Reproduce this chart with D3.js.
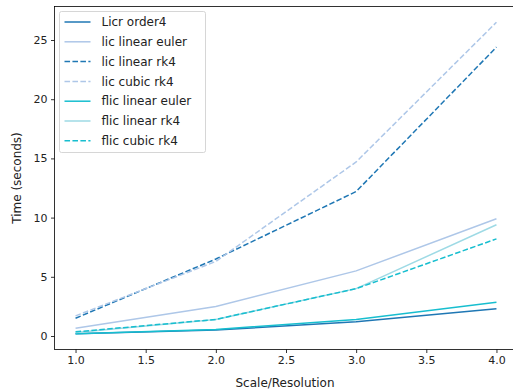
<!DOCTYPE html>
<head>
<style>
	body{ margin:0; background:white; }
	svg{ display:block; }
	text{ font-family:"DejaVu Sans", sans-serif; }
</style>
</head>
<body>
<script src="https://cdn.jsdelivr.net/npm/d3@7/dist/d3.min.js"></script>
<svg width="513" height="392"></svg>
<script>
	// values
	var scales = [1, 2, 3, 4];
	var seriesNames = ["Licr order4","lic linear euler","lic linear rk4","lic cubic rk4","flic linear euler","flic linear rk4","flic cubic rk4"];
	var licrOrder4     = [0.18, 0.5, 1.2, 2.3];
	var licLinearEuler = [0.65, 2.5, 5.5, 9.9];
	var licLinearRk4   = [1.5, 6.5, 12.2, 24.4];
	var licCubicRk4    = [1.7, 6.3, 14.7, 26.5];
	var flicLinearEuler= [0.2, 0.55, 1.4, 2.85];
	var flicLinearRk4  = [0.3, 1.4, 4.0, 9.4];
	var flicCubicRk4   = [0.35, 1.4, 4.0, 8.2];
	var xTicks = [1.0, 1.5, 2.0, 2.5, 3.0, 3.5, 4.0];
	var yTicks = [0, 5, 10, 15, 20, 25];

	var allSeries = [licrOrder4, licLinearEuler, licLinearRk4, licCubicRk4, flicLinearEuler, flicLinearRk4, flicCubicRk4];
	var colors = ["#1f77b4","#aec7e8","#1f77b4","#aec7e8","#17becf","#9edae5","#17becf"];
	var dashed = [false,false,true,true,false,false,true];

	var pLeft = 54.5, pRight = 517.5, pTop = 6.5, pBottom = 349.5;
	var svg = d3.select("svg");

	var x = d3.scaleLinear().domain([0.85, 4.15]).range([pLeft, pRight]);
	var y = d3.scaleLinear().domain([-1.14, 27.83]).range([pBottom, pTop]);

	var line = d3.line()
		.x(function(d,i){ return x(scales[i]); })
		.y(function(d){ return y(d); });

	allSeries.forEach(function(s, k){
		svg.append("path")
			.attr("d", line(s))
			.attr("fill","none")
			.attr("stroke", colors[k])
			.attr("stroke-width",1.5)
			.attr("stroke-dasharray", dashed[k] ? "5.55,2.4" : null);
	});

	// spines
	svg.append("rect")
		.attr("x",pLeft).attr("y",pTop)
		.attr("width",pRight-pLeft).attr("height",pBottom-pTop)
		.attr("fill","none").attr("stroke","black").attr("stroke-width",0.8);

	var xAxis = svg.append("g")
		.attr("transform","translate(0,"+pBottom+")")
		.call(d3.axisBottom(x).tickValues(xTicks).tickFormat(d3.format(".1f")).tickSize(3.5).tickPadding(3.5));
	var yAxis = svg.append("g")
		.attr("transform","translate("+pLeft+",0)")
		.call(d3.axisLeft(y).tickValues(yTicks).tickFormat(d3.format("d")).tickSize(3.5).tickPadding(3.5));
	[xAxis, yAxis].forEach(function(a){
		a.select(".domain").remove();
		a.selectAll("line").attr("stroke","black").attr("stroke-width",0.8);
		a.selectAll("text").attr("font-size","11px").attr("fill","#222")
			.style("font-family","DejaVu Sans");
	});

	svg.append("text")
		.attr("x",285).attr("y",387)
		.attr("text-anchor","middle").attr("font-size","12px").attr("fill","#222")
		.text("Scale/Resolution");
	svg.append("text")
		.attr("transform","translate(21,178) rotate(-90)")
		.attr("text-anchor","middle").attr("font-size","12px").attr("fill","#222")
		.text("Time (seconds)");

	// legend
	var lg = svg.append("g").attr("transform","translate(59.5,11.5)");
	lg.append("rect")
		.attr("width",146).attr("height",141).attr("rx",2)
		.attr("fill","white").attr("fill-opacity",0.8)
		.attr("stroke","#cccccc").attr("stroke-width",0.8);
	seriesNames.forEach(function(name, k){
		var yy = 10.5 + k*19.8;
		lg.append("line")
			.attr("x1",5).attr("x2",31).attr("y1",yy).attr("y2",yy)
			.attr("stroke",colors[k]).attr("stroke-width",1.5)
			.attr("stroke-dasharray", dashed[k] ? "5.55,2.4" : null);
		lg.append("text")
			.attr("x",42).attr("y",yy).attr("dy","0.35em")
			.attr("font-size","12px").attr("fill","#222")
			.text(name);
	});
</script>
</body>
</html>
